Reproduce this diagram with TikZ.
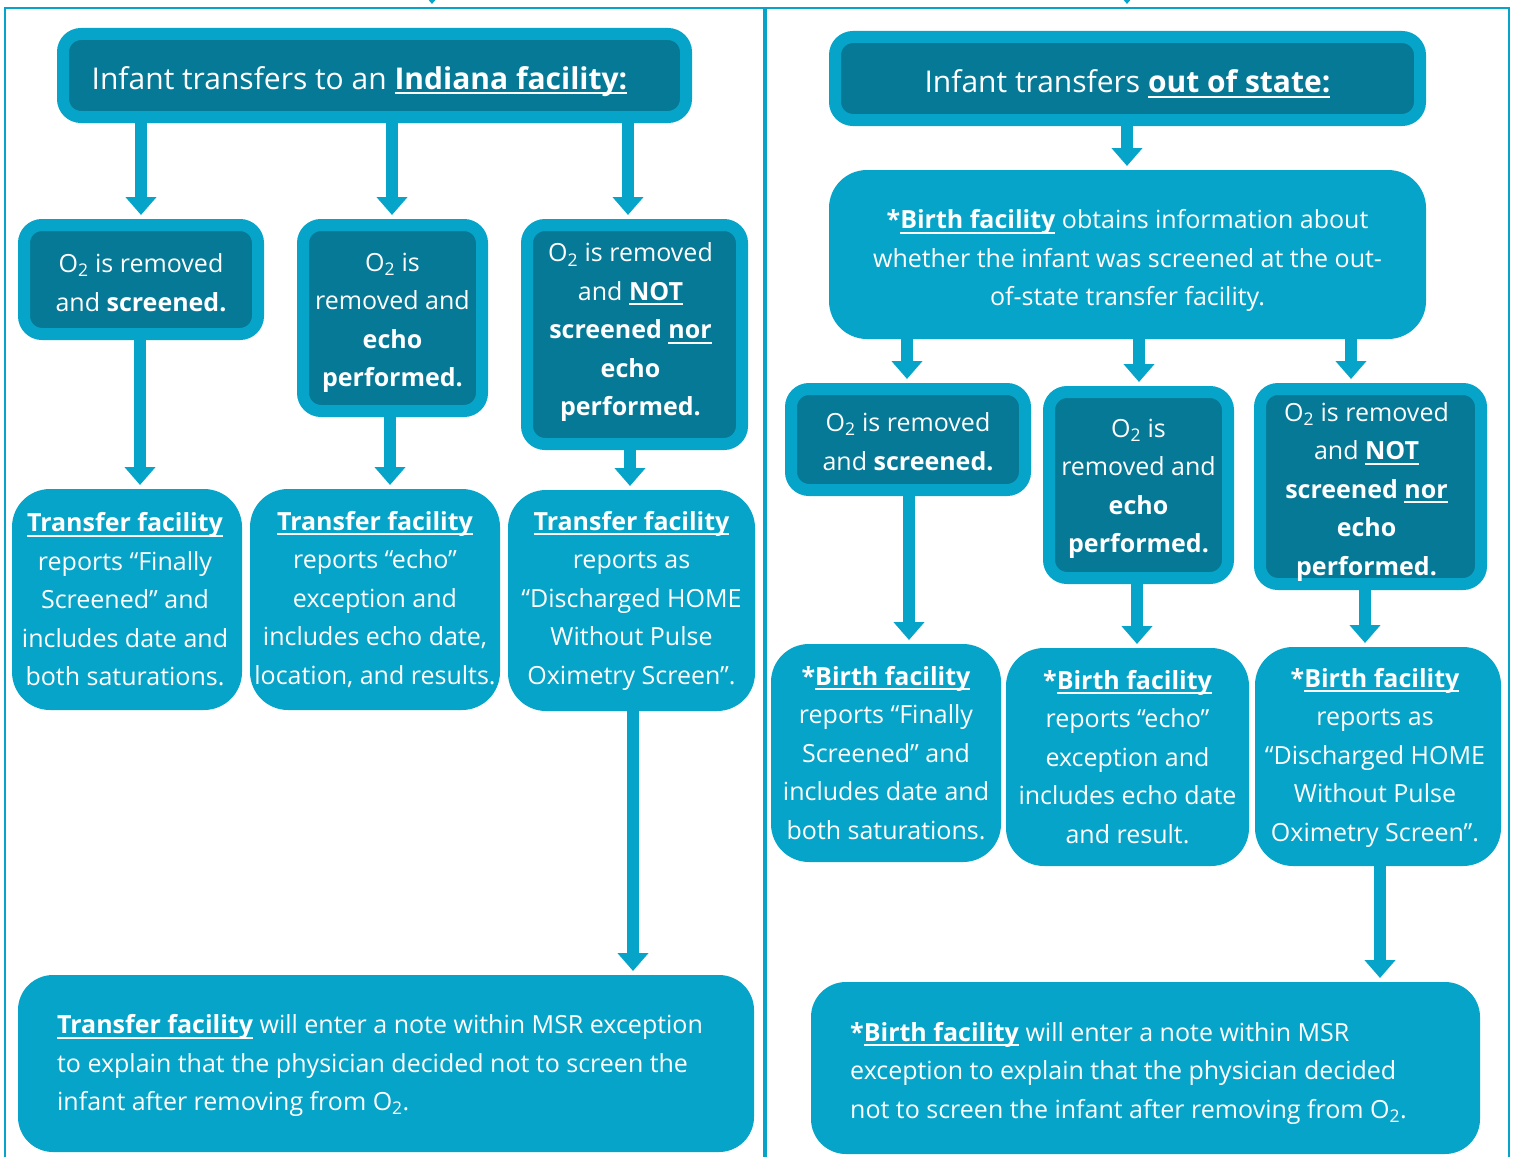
\documentclass[tikz,border=0pt]{standalone}
\usepackage{fontspec}
\setmainfont{Open Sans}
\usetikzlibrary{arrows.meta}
\definecolor{lite}{RGB}{6,164,200}
\definecolor{dark}{RGB}{6,121,150}
\newsavebox{\ulbox}
\newcommand{\myul}[1]{\sbox{\ulbox}{#1}\leavevmode\rlap{\smash{\vrule width\wd\ulbox height -3pt depth 5pt}}\usebox{\ulbox}}
\tikzset{
 darkbox/.style={draw=lite, fill=dark, line width=12pt, rounded corners=18pt, inner sep=0pt},
 litebox/.style={fill=lite, rounded corners=38pt, inner sep=0pt, outer sep=0pt},
 tx/.style={text=white, align=center, inner sep=0pt, font=\fontsize{25}{38.5}\selectfont},
 ttx/.style={text=white, align=center, inner sep=0pt, font=\fontsize{30}{36}\selectfont},
 arr/.style={draw=lite, line width=12pt, -{Triangle[width=30pt,length=18pt]}, shorten >=4pt},
 framel/.style={draw=lite, line width=2.6pt},
}
\begin{document}
\begin{tikzpicture}[x=1pt,y=-1pt]
\useasboundingbox (0,0) rectangle (1514,1156);
% frame
\coordinate (fBL) at (5,1170);
\coordinate (fTL) at (5,8);
\coordinate (fTR) at (1509,8);
\coordinate (fBR) at (1509,1170);
\coordinate (fMT) at (765,8);
\coordinate (fMB) at (765,1170);
\draw[framel] (fBL) -- (fTL) -- (fTR) -- (fBR);
\draw[framel, line width=4pt] (fMT) -- (fMB);
\coordinate (inL) at (432,-40);
\coordinate (inLend) at (432,8);
\coordinate (inR) at (1127,-40);
\coordinate (inRend) at (1127,8);
\draw[arr] (inL) -- (inLend);
\draw[arr] (inR) -- (inRend);

% ---------- left panel ----------
\node[darkbox, minimum width=623pt, minimum height=83pt,
  label={[ttx, xshift=-15pt, yshift=-6pt]center:{Infant transfers to an \textbf{\myul{Indiana facility:}}}}] (A) at (374.5,75.5) {};

\node[darkbox, minimum width=234pt, minimum height=109pt,
  label={[tx, yshift=-3pt]center:{O\textsubscript{2} is removed\\and \textbf{screened.}}}] (B1) at (141,279.5) {};
\node[darkbox, minimum width=179pt, minimum height=186pt,
  label={[tx, yshift=-5pt]center:{O\textsubscript{2} is\\removed and\\\textbf{echo}\\\textbf{performed.}}}] (B2) at (392.5,318) {};
\node[darkbox, minimum width=215pt, minimum height=219pt,
  label={[tx, xshift=-4pt, yshift=2pt]center:{O\textsubscript{2} is removed\\and \textbf{\myul{NOT}}\\\textbf{screened \myul{nor}}\\\textbf{echo}\\\textbf{performed.}}}] (B3) at (634.5,334.5) {};

\node[litebox, minimum width=230pt, minimum height=221pt,
  label={[tx, xshift=-2pt]center:{\textbf{\myul{Transfer facility}}\\reports “Finally\\Screened” and\\includes date and\\both saturations.}}] (C1) at (127,599.5) {};
\node[litebox, minimum width=250pt, minimum height=221pt,
  label={[tx]center:{\textbf{\myul{Transfer facility}}\\reports “echo”\\exception and\\includes echo date,\\location, and results.}}] (C2) at (375,599.5) {};
\node[litebox, minimum width=247pt, minimum height=221pt,
  label={[tx]center:{\textbf{\myul{Transfer facility}}\\reports as\\“Discharged HOME\\Without Pulse\\Oximetry Screen”.}}] (C3) at (631.5,600.5) {};

\node[litebox, rounded corners=35pt, minimum width=736pt, minimum height=177pt,
  label={[tx, align=left, xshift=-6pt, yshift=-2pt]center:{\textbf{\myul{Transfer facility}} will enter a note within MSR exception\\to explain that the physician decided not to screen the\\infant after removing from O\textsubscript{2}.}}] (D) at (386,1063.5) {};

\draw[arr] (A.south -| 141,0) -- (B1.north -| 141,0);
\draw[arr] (A.south -| 392,0) -- (B2.north -| 392,0);
\draw[arr] (A.south -| 628,0) -- (B3.north -| 628,0);
\draw[arr] (B1.south -| 140,0) -- (C1.north -| 140,0);
\draw[arr] (B2.south -| 390,0) -- (C2.north -| 390,0);
\draw[arr] (B3.south -| 630,0) -- (C3.north -| 630,0);
\draw[arr] (C3.south -| 633,0) -- (D.north -| 633,0);

% ---------- right panel ----------
\node[darkbox, minimum width=585pt, minimum height=83pt,
  label={[ttx, yshift=-3pt]center:{Infant transfers \textbf{\myul{out of state:}}}}] (E) at (1127.5,78.5) {};
\node[litebox, minimum width=597pt, minimum height=169pt,
  label={[tx, yshift=-6pt]center:{\textbf{*\myul{Birth facility}} obtains information about\\whether the infant was screened at the out-\\of-state transfer facility.}}] (F) at (1127.5,254.5) {};

\node[darkbox, minimum width=234pt, minimum height=101pt,
  label={[tx, yshift=-2pt]center:{O\textsubscript{2} is removed\\and \textbf{screened.}}}] (G1) at (908,439.5) {};
\node[darkbox, minimum width=179pt, minimum height=186pt,
  label={[tx, yshift=-4pt]center:{O\textsubscript{2} is\\removed and\\\textbf{echo}\\\textbf{performed.}}}] (G2) at (1138.5,485) {};
\node[darkbox, minimum width=221pt, minimum height=195pt,
  label={[tx, xshift=-4pt, yshift=-5pt]center:{O\textsubscript{2} is removed\\and \textbf{\myul{NOT}}\\\textbf{screened \myul{nor}}\\\textbf{echo}\\\textbf{performed.}}}] (G3) at (1370.5,486.5) {};

\node[litebox, minimum width=230pt, minimum height=218pt,
  label={[tx]center:{\textbf{*\myul{Birth facility}}\\reports “Finally\\Screened” and\\includes date and\\both saturations.}}] (H1) at (886,753) {};
\node[litebox, minimum width=243pt, minimum height=218pt,
  label={[tx]center:{\textbf{*\myul{Birth facility}}\\reports “echo”\\exception and\\includes echo date\\and result.}}] (H2) at (1127.5,757) {};
\node[litebox, minimum width=246pt, minimum height=219pt,
  label={[tx, xshift=-3pt, yshift=-1pt]center:{\textbf{*\myul{Birth facility}}\\reports as\\“Discharged HOME\\Without Pulse\\Oximetry Screen”.}}] (H3) at (1378,756.5) {};

\node[litebox, rounded corners=35pt, minimum width=669pt, minimum height=172pt,
  label={[tx, align=left, xshift=-17pt, yshift=-5pt]center:{\textbf{*\myul{Birth facility}} will enter a note within MSR\\exception to explain that the physician decided\\not to screen the infant after removing from O\textsubscript{2}.}}] (I) at (1145.5,1068) {};

\draw[arr] (E.south -| 1127,0) -- (F.north -| 1127,0);
\draw[arr] (F.south -| 907,0) -- (G1.north -| 907,0);
\draw[arr] (F.south -| 1139,0) -- (G2.north -| 1139,0);
\draw[arr] (F.south -| 1351,0) -- (G3.north -| 1351,0);
\draw[arr] (G1.south -| 909,0) -- (H1.north -| 909,0);
\draw[arr] (G2.south -| 1137,0) -- (H2.north -| 1137,0);
\draw[arr] (G3.south -| 1365,0) -- (H3.north -| 1365,0);
\draw[arr] (H3.south -| 1380,0) -- (I.north -| 1380,0);
\end{tikzpicture}
\end{document}
